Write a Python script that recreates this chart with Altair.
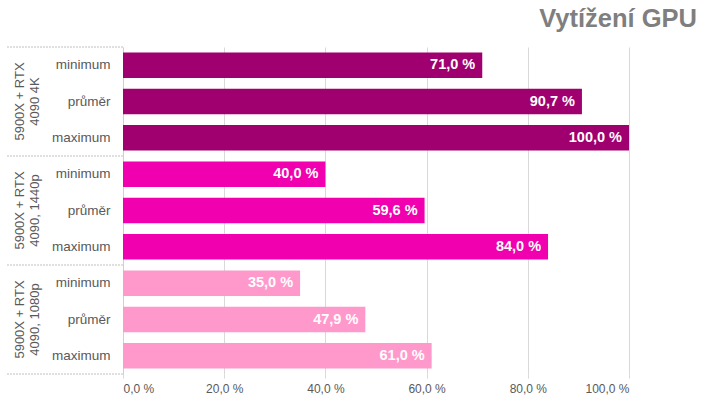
import altair as alt
import pandas as pd

groups = ["5900X + RTX\n4090 4K", "5900X + RTX\n4090, 1440p", "5900X + RTX\n4090, 1080p"]
categories = ["minimum", "průměr", "maximum"]
values_4k = [71.0, 90.7, 100.0]
values_1440 = [40.0, 59.6, 84.0]
values_1080 = [35.0, 47.9, 61.0]
colors = ["#A0006F", "#F000AE", "#FF99CC"]
x_ticks = [0, 20, 40, 60, 80, 100]
title_text = "Vytížení GPU"

FONT = "Liberation Sans"
GRAY = "#595959"

series = [values_4k, values_1440, values_1080]
rows = []
keys = []
for gi, (g, vals) in enumerate(zip(groups, series)):
    for c, v in zip(categories, vals):
        k = f"{gi}|{c}"
        keys.append(k)
        rows.append({"key": k, "group": g, "cat": c, "value": v,
                     "label": f"{v:.1f}".replace(".", ",") + " %"})
df = pd.DataFrame(rows)

df_sep = pd.DataFrame({"key": [f"{gi}|{categories[0]}" for gi in range(len(groups))]})
df_bottom = pd.DataFrame({"key": [keys[-1]]})
df_groups = pd.DataFrame({"key": [f"{gi}|{categories[1]}" for gi in range(len(groups))],
                          "glabel": groups})
df_title = pd.DataFrame({"t": [title_text]})

yscale = alt.Scale(domain=keys, paddingInner=0, paddingOuter=0)
yaxis = alt.Axis(labelExpr="split(datum.label, '|')[1]", ticks=False, labelPadding=13,
                 labelFont=FONT, labelFontSize=13.5, labelColor=GRAY,
                 domainColor="#d0d0d0", grid=False, title=None)
xaxis = alt.Axis(values=x_ticks, labelExpr="replace(format(datum.value, '.1f'), '.', ',') + ' %'",
                 grid=True, gridColor="#d9d9d9", domain=False, tickColor="#d9d9d9", tickSize=4,
                 labelFont=FONT, labelFontSize=12, labelColor=GRAY, labelPadding=5, title=None)

bars = alt.Chart(df).mark_bar(height=alt.RelativeBandSize(0.7)).encode(
    y=alt.Y("key:N", scale=yscale, axis=yaxis, sort=keys),
    x=alt.X("value:Q", scale=alt.Scale(domain=[0, 100], nice=False), axis=xaxis),
    color=alt.Color("group:N", scale=alt.Scale(domain=groups, range=colors), legend=None),
)

bar_labels = alt.Chart(df).mark_text(align="right", baseline="middle", dx=-7, color="white",
                                     font=FONT, fontSize=14.5, fontWeight="bold").encode(
    y=alt.Y("key:N", scale=yscale, sort=keys),
    x=alt.X("value:Q"),
    text="label:N",
)

rules_top = alt.Chart(df_sep).mark_rule(color="#c0c0c0", strokeDash=[2, 1]).encode(
    y=alt.Y("key:N", bandPosition=0, scale=yscale, sort=keys),
    x=alt.value(-116), x2=alt.value(0),
)
rule_bottom = alt.Chart(df_bottom).mark_rule(color="#c0c0c0", strokeDash=[2, 1]).encode(
    y=alt.Y("key:N", bandPosition=1, scale=yscale, sort=keys),
    x=alt.value(-116), x2=alt.value(0),
)

group_labels = alt.Chart(df_groups).mark_text(angle=270, lineBreak="\n", align="center",
                                              baseline="middle", font=FONT, fontSize=13,
                                              lineHeight=15, color=GRAY).encode(
    y=alt.Y("key:N", scale=yscale, sort=keys),
    x=alt.value(-103),
    text="glabel:N",
)

title = alt.Chart(df_title).mark_text(align="right", baseline="alphabetic", font=FONT,
                                      fontSize=25.5, fontWeight="bold", color="#7f7f7f").encode(
    text="t:N", x=alt.value(574), y=alt.value(-20),
)

chart = alt.layer(rules_top, rule_bottom, bars, bar_labels, group_labels, title).properties(
    width=506, height=327,
    padding={"left": 123, "top": 47, "right": 91, "bottom": 31},
    autosize=alt.AutoSizeParams(type="none"),
).configure_view(stroke="transparent")

chart.save("out.html", embed_options={"renderer": "svg", "actions": False})
